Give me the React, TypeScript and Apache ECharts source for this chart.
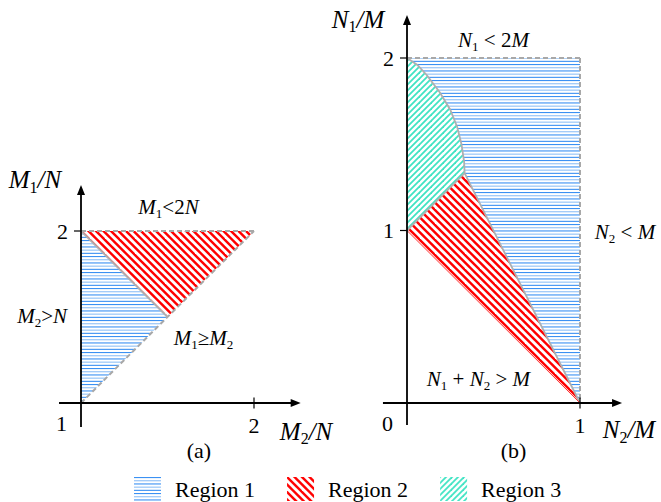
import React, { useEffect, useRef } from 'react';
import * as echarts from 'echarts';

const SERIF = 'Liberation Serif';

// ---------- Panel (a): x = M2/N, y = M1/N ----------
const regionA1 = [[1, 1], [1, 2], [1.5, 1.5]];
const regionA2 = [[1, 2], [2, 2], [1.5, 1.5]];
const dashedA = [[[1, 2], [2, 2]], [[1, 1], [2, 2]]];
const solidA = [[[1, 2], [1.5, 1.5]]];
const originA = [1, 1];
const xAxisExtentA = [0.873, 2.27];
const yAxisExtentA = [0.86, 2.267];
const xTicksA = [2];
const yTicksA = [2];
const xTickLabelsA = ['2'];
const yTickLabelsA = ['2'];
const originLabelA = '1';

// ---------- Panel (b): x = N2/M, y = N1/M ----------
const arcB = [[0, 2], [0.06, 1.96], [0.115, 1.9], [0.19, 1.8], [0.25, 1.7], [0.29, 1.6], [0.315, 1.5], [0.33, 1.4], [0.333, 1.333]];
const pointPB = [0.333, 1.333];
const regionB1 = [[0, 2], [1, 2], [1, 0], ...arcB.slice().reverse()];
const regionB2 = [[0, 1], pointPB, [1, 0]];
const regionB3 = [...arcB, [0, 1]];
const dashedB = [[[0, 2], [1, 2]], [[1, 2], [1, 0]]];
const solidB = [arcB, [pointPB, [1, 0]], [[0, 1], pointPB]];
const redEdgeB = [[[0, 1], [1, 0]]];
const originB = [0, 0];
const xAxisExtentB = [-0.139, 1.243];
const yAxisExtentB = [-0.128, 2.249];
const xTicksB = [1];
const yTicksB = [1, 2];
const xTickLabelsB = ['1'];
const yTickLabelsB = ['1', '2'];
const originLabelB = '0';

const legendNames = ['Region 1', 'Region 2', 'Region 3'];

// annotations (text, anchor in data coords, font size)
const notesA = [
  { t: '{i|M}{s|1}{i|/N}', x: 0.734, y: 2.297, f: 25 },
  { t: '{i|M}{s|1}{r|<2}{i|N}', x: 1.506, y: 2.142, f: 21 },
  { t: '{i|M}{s|2}{r|>}{i|N}', x: 0.775, y: 1.503, f: 21 },
  { t: '{i|M}{s|1}{r|≥}{i|M}{s|2}', x: 1.708, y: 1.378, f: 21 },
  { t: '{i|M}{s|2}{i|/N}', x: 2.301, y: 0.837, f: 25 },
  { t: '{r|(a)}', x: 1.682, y: 0.721, f: 22 },
];
const notesB = [
  { t: '{i|N}{s|1}{i|/M}', x: -0.283, y: 2.226, f: 25 },
  { t: '{i|N}{s|1}{r| < 2}{i|M}', x: 0.5, y: 2.107, f: 21 },
  { t: '{i|N}{s|2}{r| < }{i|M}', x: 1.26, y: 0.991, f: 21 },
  { t: '{i|N}{s|1}{r| + }{i|N}{s|2}{r| > }{i|M}', x: 0.413, y: 0.142, f: 21 },
  { t: '{i|N}{s|2}{i|/M}', x: 1.283, y: -0.154, f: 25 },
  { t: '{r|(b)}', x: 0.616, y: -0.278, f: 22 },
];

function mkRich(f: number) {
  return {
    i: { fontFamily: SERIF, fontStyle: 'italic', fontSize: f, fill: '#000', color: '#000' },
    r: { fontFamily: SERIF, fontSize: f, fill: '#000', color: '#000' },
    s: { fontFamily: SERIF, fontSize: Math.round(f * 0.62), fill: '#000', color: '#000', padding: [Math.round(f * 0.6), 0, 0, 0] },
  };
}

function makePattern(kind: string) {
  const c = document.createElement('canvas');
  let w = 8, h = 16;
  if (kind === 'blue') {
    w = 8; h = 16;
    c.width = w; c.height = h;
    const ctx = c.getContext('2d')!;
    for (let k = 0; k < 5; k++) {
      ctx.fillStyle = k % 2 === 0 ? '#3b91f3' : '#8fc0f7';
      ctx.fillRect(0, k * 3.2, w, 1.1);
    }
  } else if (kind === 'red') {
    w = 15; h = 15;
    c.width = w; c.height = h;
    const ctx = c.getContext('2d')!;
    ctx.strokeStyle = '#ff0000';
    ctx.lineWidth = 2.4;
    for (const c0 of [-15, -7.5, 0, 7.5, 15]) {
      ctx.beginPath(); ctx.moveTo(c0 - 2, -2); ctx.lineTo(c0 + 17, 17); ctx.stroke();
    }
  } else {
    w = 12; h = 12;
    c.width = w; c.height = h;
    const ctx = c.getContext('2d')!;
    ctx.strokeStyle = '#3fe3c3';
    ctx.lineWidth = 1.8;
    for (const c0 of [0, 6, 12, 18, 24]) {
      ctx.beginPath(); ctx.moveTo(c0 + 2, -2); ctx.lineTo(c0 - 14, 14); ctx.stroke();
    }
  }
  return { image: c, repeat: 'repeat', imageWidth: w, imageHeight: h };
}

function regionSeries(name: string, gi: number, pts: number[][], fill: any) {
  return {
    type: 'custom', name, xAxisIndex: gi, yAxisIndex: gi, z: 1, silent: true,
    itemStyle: { color: fill },
    data: pts,
    renderItem: (params: any, api: any) => {
      if (params.dataIndex !== 0) return null;
      return { type: 'polygon', shape: { points: pts.map((p) => api.coord(p)) }, style: { fill, stroke: null } };
    },
  };
}

function linesSeries(gi: number, lines: number[][][], style: any, z: number) {
  return {
    type: 'custom', xAxisIndex: gi, yAxisIndex: gi, z, silent: true,
    data: [lines[0][0]],
    renderItem: (params: any, api: any) => ({
      type: 'group',
      children: lines.map((l) => ({ type: 'polyline', shape: { points: l.map((p) => api.coord(p)) }, style })),
    }),
  };
}

function txt(text: string, x: number, y: number, f: number, align: string) {
  return {
    type: 'text', x, y,
    style: { text, rich: mkRich(f), fontFamily: SERIF, fontSize: f, fill: '#000', align, verticalAlign: 'middle' },
  };
}

function decorSeries(gi: number, origin: number[], xExt: number[], yExt: number[], xTicks: number[], xLabels: string[], yTicks: number[], yLabels: string[], originLabel: string, notes: any[]) {
  return {
    type: 'custom', xAxisIndex: gi, yAxisIndex: gi, z: 5, silent: true,
    data: [origin],
    renderItem: (params: any, api: any) => {
      const axisStyle = { stroke: '#000', lineWidth: 1.8 };
      const tickStyle = { stroke: '#000', lineWidth: 1.2 };
      const ch: any[] = [];
      const o = api.coord(origin);
      const xs = api.coord([xExt[0], origin[1]]);
      const xe = api.coord([xExt[1], origin[1]]);
      const ys = api.coord([origin[0], yExt[0]]);
      const ye = api.coord([origin[0], yExt[1]]);
      ch.push({ type: 'line', shape: { x1: xs[0], y1: xs[1], x2: xe[0] - 8, y2: xe[1] }, style: axisStyle });
      ch.push({ type: 'polygon', shape: { points: [xe, [xe[0] - 10, xe[1] - 4], [xe[0] - 10, xe[1] + 4]] }, style: { fill: '#000' } });
      ch.push({ type: 'line', shape: { x1: ys[0], y1: ys[1], x2: ye[0], y2: ye[1] + 8 }, style: axisStyle });
      ch.push({ type: 'polygon', shape: { points: [ye, [ye[0] - 4, ye[1] + 10], [ye[0] + 4, ye[1] + 10]] }, style: { fill: '#000' } });
      xTicks.forEach((t, i) => {
        const p = api.coord([t, origin[1]]);
        ch.push({ type: 'line', shape: { x1: p[0], y1: p[1] - 5.5, x2: p[0], y2: p[1] + 5.5 }, style: tickStyle });
        ch.push(txt('{r|' + xLabels[i] + '}', p[0], p[1] + 22, 22, 'center'));
      });
      yTicks.forEach((t, i) => {
        const p = api.coord([origin[0], t]);
        ch.push({ type: 'line', shape: { x1: p[0] - 7, y1: p[1], x2: p[0], y2: p[1] }, style: tickStyle });
        ch.push(txt('{r|' + yLabels[i] + '}', p[0] - 13, p[1], 22, 'right'));
      });
      ch.push(txt('{r|' + originLabel + '}', o[0] - 14, o[1] + 20, 22, 'right'));
      notes.forEach((n) => {
        const p = api.coord([n.x, n.y]);
        ch.push(txt(n.t, p[0], p[1], n.f, 'center'));
      });
      return { type: 'group', children: ch };
    },
  };
}

export default function App() {
  const ref = useRef<HTMLDivElement>(null);
  useEffect(() => {
    if (!ref.current) return;
    const chart = echarts.init(ref.current, undefined, { renderer: 'svg' });
    const blue = makePattern('blue');
    const red = makePattern('red');
    const green = makePattern('green');
    const dashStyle = { stroke: '#a8a8a8', lineWidth: 2, lineDash: [5, 3], fill: null };
    const solidStyle = { stroke: '#b0b0b0', lineWidth: 1.8, fill: null };
    const redStyle = { stroke: '#ff3030', lineWidth: 1, fill: null };
    chart.setOption({
      animation: false,
      backgroundColor: '#fff',
      grid: [
        { left: 11.8, top: 162.2, width: 311.4, height: 309.6 },
        { left: 337.8, top: 6.25, width: 311.4, height: 465.75 },
      ],
      xAxis: [
        { type: 'value', gridIndex: 0, min: 0.6, max: 2.4, show: false },
        { type: 'value', gridIndex: 1, min: -0.4, max: 1.4, show: false },
      ],
      yAxis: [
        { type: 'value', gridIndex: 0, min: 0.6, max: 2.4, show: false },
        { type: 'value', gridIndex: 1, min: -0.4, max: 2.3, show: false },
      ],
      legend: {
        data: legendNames,
        left: 134, top: 477, padding: 0,
        itemWidth: 27, itemHeight: 24, itemGap: 32,
        icon: 'rect', selectedMode: false,
        textStyle: { fontFamily: SERIF, fontSize: 22, color: '#000', padding: [0, 0, 0, 9] },
      },
      series: [
        regionSeries('Region 1', 0, regionA1, blue),
        regionSeries('Region 2', 0, regionA2, red),
        regionSeries('Region 1', 1, regionB1, blue),
        regionSeries('Region 2', 1, regionB2, red),
        regionSeries('Region 3', 1, regionB3, green),
        linesSeries(0, dashedA, dashStyle, 2),
        linesSeries(0, solidA, solidStyle, 2),
        linesSeries(1, dashedB, dashStyle, 2),
        linesSeries(1, solidB, solidStyle, 2),
        linesSeries(1, redEdgeB, redStyle, 2),
        decorSeries(0, originA, xAxisExtentA, yAxisExtentA, xTicksA, xTickLabelsA, yTicksA, yTickLabelsA, originLabelA, notesA),
        decorSeries(1, originB, xAxisExtentB, yAxisExtentB, xTicksB, xTickLabelsB, yTicksB, yTickLabelsB, originLabelB, notesB),
      ],
    });
    return () => chart.dispose();
  }, []);
  return <div ref={ref} style={{ position: 'absolute', left: 0, top: 0, width: 661, height: 502 }} />;
}
